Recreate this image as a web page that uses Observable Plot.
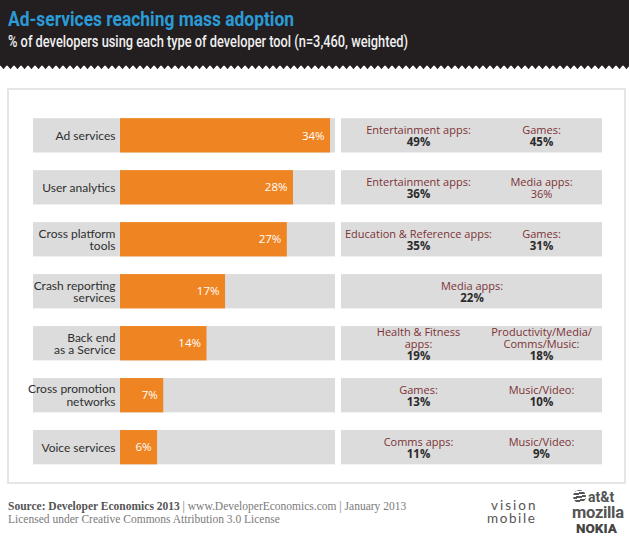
<!DOCTYPE html>
<html><head><meta charset="utf-8">
<script src="https://cdn.jsdelivr.net/npm/d3@7"></script>
<script src="https://cdn.jsdelivr.net/npm/@observablehq/plot@0.6"></script>
<style>
html,body{margin:0;padding:0;background:#fff;}
#page{position:relative;width:629px;height:542px;overflow:hidden;background:#fff;}
.abs{position:absolute;}
.logo{position:absolute;white-space:nowrap;line-height:1;}
g[aria-description="emphasised"] text tspan:last-child{font-weight:bold;fill:#2b2b2b;font-size:11.5px;}
</style></head><body>
<div id="page">
  <svg class="abs" style="left:0;top:0" width="629" height="72">
    <defs><pattern id="teeth" x="0" y="0" width="7" height="5" patternUnits="userSpaceOnUse"><path d="M0 0H7L3.5 4.2Z" fill="#231f20"/></pattern></defs>
    <rect x="0" y="0" width="629" height="65.5" fill="#231f20"/>
    <rect x="0" y="65" width="629" height="5" fill="url(#teeth)"/>
    <text x="8" y="25.5" font-family="Roboto" font-weight="700" font-size="21" fill="#2b9bd7" textLength="286" lengthAdjust="spacingAndGlyphs">Ad-services reaching mass adoption</text>
    <text x="8" y="46.5" font-family="Roboto" font-weight="500" font-size="16.5" fill="#f0f0f0" textLength="400" lengthAdjust="spacingAndGlyphs">% of developers using each type of developer tool (n=3,460, weighted)</text>
  </svg>
  <div class="abs" style="left:7px;top:88px;width:615px;height:392px;border:2px solid #e6e6e6;"></div>
  <div id="left" class="abs" style="left:8px;top:88px"></div>
  <div id="right" class="abs" style="left:338px;top:88px"></div>
  <div class="abs" style="left:8px;top:500px;font-family:'Liberation Serif';font-size:11.5px;color:#7a7a7a;white-space:nowrap;line-height:13px">
    <b style="color:#555">Source: Developer Economics 2013</b> | www.DeveloperEconomics.com | January 2013<br>Licensed under Creative Commons Attribution 3.0 License
  </div>
  <div class="logo" style="left:491px;top:499px;font-family:Lato;font-weight:400;font-size:13.5px;color:#555;letter-spacing:2px">vision</div>
  <div class="logo" style="left:487px;top:512px;font-family:Lato;font-weight:400;font-size:13.5px;color:#555;letter-spacing:1.6px">mobile</div>
  <div class="abs" style="left:573px;top:490px;width:13px;height:13px;border-radius:50%;background:repeating-linear-gradient(170deg,#555 0 2px,#fff 2px 3.5px);"></div>
  <div class="logo" style="left:588px;top:490px;font-family:Roboto;font-weight:700;font-size:14px;color:#555">at&amp;t</div>
  <div class="logo" style="left:572px;top:505px;font-family:Roboto;font-weight:700;font-size:16.5px;color:#555;letter-spacing:-0.3px">mozilla</div>
  <div class="logo" style="left:576px;top:522px;font-family:Roboto;font-weight:900;font-size:13.5px;color:#444">NOKIA</div>
</div>
<script>
// ---- data ----
const tools = ["Ad services", "User analytics", "Cross platform tools", "Crash reporting services", "Back end as a Service", "Cross promotion networks", "Voice services"];
const toolLabels = ["Ad services", "User analytics", "Cross platform\ntools", "Crash reporting\nservices", "Back end\nas a Service", "Cross promotion\nnetworks", "Voice services"];
const usage = [34, 28, 27, 17, 14, 7, 6];
const firstApp = ["Entertainment apps:", "Entertainment apps:", "Education & Reference apps:", "Media apps:", "Health & Fitness\napps:", "Games:", "Comms apps:"];
const firstShare = [49, 36, 35, 22, 19, 13, 11];
const secondApp = ["Games:", "Media apps:", "Games:", null, "Productivity/Media/\nComms/Music:", "Music/Video:", "Music/Video:"];
const secondShare = [45, 36, 31, null, 18, 10, 9];
const trackMax = 34.8;

// ---- tables ----
const rows = tools.map((t, i) => ({tool: t, label: toolLabels[i], usage: usage[i]}));
const apps = [];
tools.forEach((t, i) => {
  const single = secondApp[i] == null;
  apps.push({tool: t, col: 0, name: firstApp[i], share: firstShare[i], single});
  if (!single) apps.push({tool: t, col: 1, name: secondApp[i], share: secondShare[i], single});
});
const plainValue = (d) => d.tool === "User analytics" && d.col === 1; // not emphasised in the original
apps.forEach(d => { d.label = d.name + "\n" + d.share + "%"; });

const ORANGE = "#ef8522", GREY = "#dcdcdd", RED = "#7d3333";
const yScale = {domain: tools, padding: 0.34, round: false, axis: null};
const common = {height: 396, marginTop: 12.5, marginBottom: 2, y: yScale};

const left = Plot.plot({
  ...common,
  width: 330, marginLeft: 25, marginRight: 3,
  x: {domain: [0, trackMax], range: [112, 327], axis: null},
  style: {background: "transparent", fontFamily: "Lato"},
  marks: [
    Plot.cell(tools, {y: d => d, fill: GREY}),
    Plot.barX(rows, {x: "usage", y: "tool", fill: ORANGE}),
    Plot.text(rows, {x: 0, y: "tool", text: "label", textAnchor: "end", dx: -5, fill: "#2f2f2f", fontSize: 12, lineHeight: 1.02, fontFamily: "Lato"}),
    Plot.text(rows, {x: "usage", y: "tool", text: d => d.usage + "%", textAnchor: "end", dx: -6, fill: "#fff", fontSize: 11.5, fontFamily: "Open Sans"})
  ]
});
document.getElementById("left").appendChild(left);

const txt = {y: "tool", text: "label", lineAnchor: "middle", fontSize: 11, lineHeight: 12 / 11, fontFamily: "Open Sans", fill: RED};
const right = Plot.plot({
  ...common,
  width: 286, marginLeft: 3, marginRight: 22,
  x: {domain: [0, 1], range: [80, 203], axis: null},
  style: {background: "transparent", fontFamily: "Open Sans"},
  marks: [
    Plot.cell(tools, {y: d => d, fill: GREY}),
    Plot.text(apps, {...txt, filter: d => !d.single && !plainValue(d), x: "col", ariaDescription: "emphasised"}),
    Plot.text(apps, {...txt, filter: d => !d.single && plainValue(d), x: "col"}),
    Plot.text(apps, {...txt, filter: d => d.single, ariaDescription: "emphasised"})
  ]
});
document.getElementById("right").appendChild(right);
</script>
</body></html>
